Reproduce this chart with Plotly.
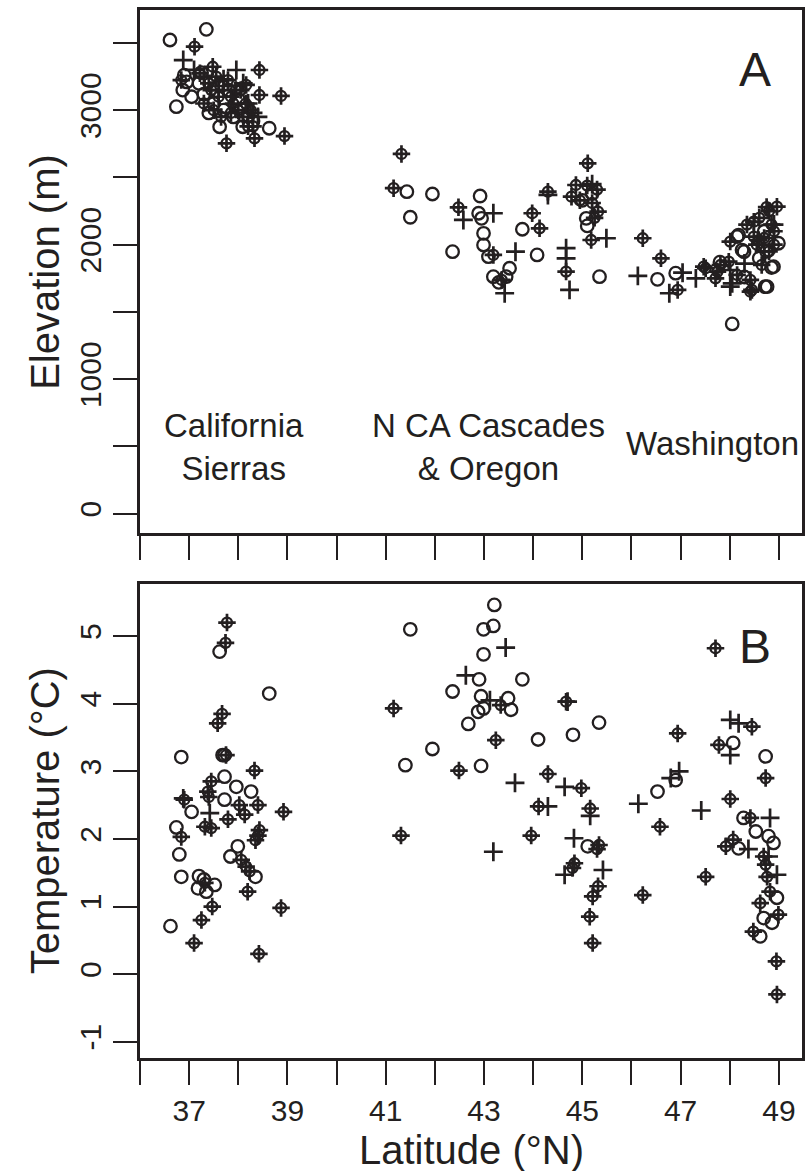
import plotly.graph_objects as go

INK = "#231f20"
FONT = "Liberation Sans, Arial, Helvetica, sans-serif"

# ---------------- Panel A: elevation (m) vs latitude ----------------
circ_A_lat = [36.61, 37.35, 36.87, 37.05, 36.74, 37.62, 38.09, 38.63, 37.20, 37.50, 37.70, 37.90,
              38.20, 37.30, 38.00, 36.95, 37.40, 37.80, 38.30, 37.25, 36.90,
              41.43, 41.95, 41.50, 42.92, 42.89, 42.95, 42.99, 42.99, 42.36, 43.09, 43.52, 43.19,
              43.45, 43.78, 44.08, 45.08, 45.10, 45.35, 45.00, 45.20, 43.30,
              46.53, 46.90, 47.80, 48.05, 48.72, 48.15, 48.29, 48.99, 48.89, 48.60, 48.75, 48.70,
              48.85, 48.30, 48.18, 48.25, 48.76]
circ_A_elev = [3522, 3601, 3150, 3100, 3026, 2877, 2877, 2866, 3200, 3050, 3000, 2950,
               2960, 3120, 3080, 3210, 2980, 3150, 2920, 3280, 3260,
               2394, 2377, 2204, 2362, 2234, 2196, 2085, 1998, 1948, 1911, 1825, 1762,
               1762, 2115, 1924, 2196, 2140, 1762, 2330, 2380, 1720,
               1743, 1788, 1870, 1411, 1688, 2060, 1948, 2011, 1837, 1900, 1950, 2100,
               1830, 1760, 2072, 1960, 1688]

plus_A_lat = [36.88, 37.96, 37.30, 37.60, 38.20, 37.10, 38.30, 37.70, 38.10, 38.40,
              42.58, 43.19, 43.64, 43.42, 44.30, 44.67, 44.67, 44.74, 45.49, 45.20,
              46.13, 47.04, 46.77, 47.31, 48.01, 48.01, 48.30, 48.70, 48.90, 48.05]
plus_A_elev = [3373, 3299, 3250, 3150, 3050, 3300, 2980, 3230, 3200, 2950,
               2184, 2234, 1948, 1639, 2370, 1974, 1899, 1664, 2048, 2450,
               1768, 1792, 1639, 1750, 1812, 1688, 1860, 1950, 2150, 1713]

cp_A_lat = [37.11, 36.84, 37.22, 37.48, 37.79, 38.16, 38.43, 38.43, 38.87, 37.76, 38.33, 38.94,
            38.30, 37.40, 37.60, 37.90, 38.00, 38.10, 37.70, 37.50, 38.20, 37.30, 37.95, 38.25,
            37.55, 37.85, 38.05, 37.65, 38.15, 37.45, 37.85,
            41.32, 41.16, 42.48, 43.19, 43.36, 43.98, 44.13, 44.30, 44.67, 45.11, 44.87, 45.10,
            44.78, 45.32, 45.18, 45.30, 45.20, 44.95, 45.25,
            46.23, 46.60, 46.94, 47.51, 47.71, 47.81, 47.98, 48.15, 48.42, 48.45, 48.01, 48.49,
            48.49, 48.96, 48.55, 48.60, 48.80, 48.85, 48.70, 48.90, 48.65, 48.75, 48.80, 48.90,
            48.35, 47.47, 47.75, 48.59, 48.42]
cp_A_elev = [3472, 3224, 3274, 3323, 3224, 3188, 3299, 3113, 3106, 2754, 2791, 2808,
             2880, 3200, 3100, 3050, 3000, 2950, 3180, 3000, 2880, 3050, 3150, 3000,
             3250, 3100, 3150, 2950, 3050, 3150, 2980,
             2675, 2420, 2278, 1924, 1738, 2234, 2122, 2394, 1800, 2605, 2444, 2440,
             2357, 2246, 2035, 2410, 2310, 2330, 2200,
             2048, 1899, 1664, 1825, 1750, 1849, 1874, 1775, 1738, 1664, 2023, 2171,
             2060, 2283, 2000, 2200, 2250, 2150, 2050, 2100, 1850, 2280, 1950, 2000,
             2150, 1837, 1800, 2035, 1651]

# ---------------- Panel B: temperature (deg C) vs latitude ----------------
circ_B_lat = [37.62, 38.63, 36.84, 37.72, 37.72, 37.96, 38.26, 37.72, 37.05, 36.74, 36.80, 37.99,
              37.84, 38.35, 36.84, 37.20, 37.30, 37.18, 37.52, 37.35, 36.62, 37.68,
              43.21, 41.50, 42.99, 43.19, 42.99, 42.90, 43.78, 42.36, 42.94, 43.49, 43.55, 42.88,
              42.99, 42.68, 45.34, 44.10, 44.81, 41.95, 41.40, 42.94, 45.11,
              48.07, 48.73, 46.90, 46.53, 48.28, 48.53, 48.79, 48.89, 48.18, 48.96, 48.69, 48.86,
              48.62]
circ_B_temp = [4.77, 4.15, 3.21, 3.24, 2.92, 2.77, 2.70, 2.58, 2.40, 2.17, 1.77, 1.89,
               1.74, 1.44, 1.44, 1.45, 1.40, 1.27, 1.32, 1.22, 0.71, 3.24,
               5.46, 5.10, 5.10, 5.15, 4.73, 4.36, 4.36, 4.18, 4.11, 4.08, 3.91, 3.88,
               3.93, 3.70, 3.72, 3.47, 3.54, 3.33, 3.09, 3.08, 1.89,
               3.42, 3.22, 2.87, 2.70, 2.31, 2.11, 2.04, 1.94, 1.86, 1.13, 0.83, 0.76,
               0.56]

plus_B_lat = [36.88, 37.42,
              43.44, 42.63, 43.12, 44.70, 43.63, 44.64, 44.30, 45.16, 44.83, 43.19, 44.64, 45.42,
              48.01, 48.18, 48.01, 46.97, 46.80, 46.14, 47.42, 48.82, 48.38, 48.79, 48.96]
plus_B_temp = [2.60, 2.38,
               4.83, 4.42, 4.05, 4.03, 2.83, 2.77, 2.48, 2.34, 2.01, 1.81, 1.47, 1.54,
               3.76, 3.71, 3.24, 3.00, 2.90, 2.52, 2.42, 2.31, 1.85, 1.74, 1.47]

cp_B_lat = [37.77, 37.74, 37.67, 37.58, 37.75, 38.33, 37.45, 37.38, 37.40, 36.90, 38.02, 38.40,
            38.13, 38.92, 37.79, 37.32, 37.45, 36.84, 38.43, 38.40, 38.35, 38.06, 38.16, 38.23,
            37.32, 38.19, 37.47, 38.87, 37.25, 37.10, 38.42,
            41.16, 44.67, 43.34, 43.24, 42.49, 44.30, 44.98, 44.11, 45.16, 41.31, 43.96, 45.34,
            45.30, 44.84, 44.80, 45.32, 45.21, 45.15, 45.21,
            47.71, 48.45, 46.94, 47.78, 48.73, 48.01, 46.58, 48.42, 48.07, 47.92, 48.69, 48.73,
            48.76, 47.51, 48.82, 48.62, 48.99, 48.48, 46.23, 48.95, 48.96]
cp_B_temp = [5.20, 4.90, 3.85, 3.71, 3.24, 3.01, 2.85, 2.70, 2.62, 2.58, 2.50, 2.50,
             2.36, 2.40, 2.29, 2.18, 2.16, 2.03, 2.13, 2.05, 1.98, 1.69, 1.59, 1.52,
             1.35, 1.22, 1.00, 0.98, 0.80, 0.46, 0.30,
             3.93, 4.03, 3.98, 3.46, 3.01, 2.96, 2.75, 2.48, 2.45, 2.05, 2.05, 1.91,
             1.85, 1.64, 1.57, 1.30, 1.15, 0.85, 0.46,
             4.82, 3.66, 3.56, 3.39, 2.90, 2.59, 2.18, 2.31, 1.99, 1.89, 1.74, 1.62,
             1.44, 1.44, 1.22, 1.05, 0.88, 0.63, 1.17, 0.19, -0.30]

# ---------------- ticks and labels ----------------
lat_ticks = list(range(36, 50))
lat_labels = [str(v) if v % 2 == 1 else "" for v in lat_ticks]
elev_ticks = [0, 500, 1000, 1500, 2000, 2500, 3000, 3500]
elev_labels = ["0", "", "1000", "", "2000", "", "3000", ""]
temp_ticks = [-1, 0, 1, 2, 3, 4, 5]
temp_labels = ["-1", "0", "1", "2", "3", "4", "5"]

region_labels = ["California<br>Sierras", "N CA Cascades<br>& Oregon", "Washington"]
region_lat = [37.92, 43.09, 47.64]
region_elev = [497, 497, 525]

fig = go.Figure()


def add_points(xs, ys, kind, xa, ya):
    if kind == "circle":
        fig.add_trace(go.Scatter(x=xs, y=ys, mode="markers", xaxis=xa, yaxis=ya,
                                 marker=dict(symbol="circle-open", size=12.5,
                                             color=INK, line=dict(width=2.3, color=INK)),
                                 showlegend=False, hoverinfo="skip"))
    elif kind == "plus":
        fig.add_trace(go.Scatter(x=xs, y=ys, mode="markers", xaxis=xa, yaxis=ya,
                                 marker=dict(symbol="cross-thin-open", size=13.5,
                                             color=INK, line=dict(width=2.7, color=INK)),
                                 showlegend=False, hoverinfo="skip"))
    else:
        fig.add_trace(go.Scatter(x=xs, y=ys, mode="markers", xaxis=xa, yaxis=ya,
                                 marker=dict(symbol="circle-open", size=10,
                                             color=INK, line=dict(width=2.3, color=INK)),
                                 showlegend=False, hoverinfo="skip"))
        fig.add_trace(go.Scatter(x=xs, y=ys, mode="markers", xaxis=xa, yaxis=ya,
                                 marker=dict(symbol="cross-thin-open", size=12.5,
                                             color=INK, line=dict(width=2.7, color=INK)),
                                 showlegend=False, hoverinfo="skip"))


add_points(circ_A_lat, circ_A_elev, "circle", "x", "y")
add_points(plus_A_lat, plus_A_elev, "plus", "x", "y")
add_points(cp_A_lat, cp_A_elev, "cp", "x", "y")
add_points(circ_B_lat, circ_B_temp, "circle", "x2", "y2")
add_points(plus_B_lat, plus_B_temp, "plus", "x2", "y2")
add_points(cp_B_lat, cp_B_temp, "cp", "x2", "y2")

axis_common = dict(showline=True, linecolor=INK, linewidth=2.5, mirror=True,
                   ticks="outside", ticklen=24, tickwidth=2, tickcolor=INK,
                   showgrid=False, zeroline=False,
                   tickfont=dict(family=FONT, size=30, color=INK))

fig.update_layout(
    width=807, height=1171,
    margin=dict(l=140, r=2, t=10, b=113),
    paper_bgcolor="white", plot_bgcolor="white",
    xaxis=dict(axis_common, range=[36.0, 49.47], anchor="y", domain=[0, 1],
               tickmode="array", tickvals=lat_ticks, ticktext=["" for _ in lat_ticks]),
    yaxis=dict(axis_common, range=[-143, 3745], anchor="x", domain=[0.501, 1],
               tickmode="array", tickvals=elev_ticks, ticktext=elev_labels, tickangle=-90),
    xaxis2=dict(axis_common, range=[36.0, 49.47], anchor="y2", domain=[0, 1],
                tickmode="array", tickvals=lat_ticks, ticktext=lat_labels),
    yaxis2=dict(axis_common, range=[-1.24, 5.77], anchor="x2", domain=[0, 0.4523],
                tickmode="array", tickvals=temp_ticks, ticktext=temp_labels, tickangle=-90),
)

# region labels in panel A
for txt, la, el in zip(region_labels, region_lat, region_elev):
    fig.add_annotation(x=la, y=el, xref="x", yref="y", text=txt, showarrow=False,
                       font=dict(family=FONT, size=33, color=INK), align="center",
                       xanchor="center", yanchor="middle")

# panel letters
fig.add_annotation(x=48.52, y=3300, xref="x", yref="y", text="A", showarrow=False,
                   font=dict(family=FONT, size=48, color=INK), xanchor="center", yanchor="middle")
fig.add_annotation(x=48.52, y=4.85, xref="x2", yref="y2", text="B", showarrow=False,
                   font=dict(family=FONT, size=48, color=INK), xanchor="center", yanchor="middle")

# axis titles
fig.add_annotation(x=-0.143, y=0.7505, xref="paper", yref="paper", text="Elevation (m)",
                   textangle=-90, showarrow=False, xanchor="center", yanchor="middle",
                   font=dict(family=FONT, size=40, color=INK))
fig.add_annotation(x=-0.143, y=0.2262, xref="paper", yref="paper", text="Temperature (°C)",
                   textangle=-90, showarrow=False, xanchor="center", yanchor="middle",
                   font=dict(family=FONT, size=40, color=INK))
fig.add_annotation(x=0.5, y=-0.0878, xref="paper", yref="paper", text="Latitude (°N)",
                   showarrow=False, xanchor="center", yanchor="middle",
                   font=dict(family=FONT, size=40, color=INK))

fig.write_html("out.html",
               config={"displayModeBar": False},
               post_script="document.body.style.margin='0';document.body.style.padding='0';"
                           "document.body.style.overflow='hidden';")
